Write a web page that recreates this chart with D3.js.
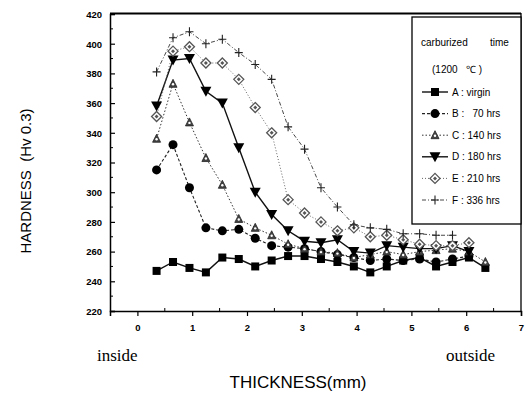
<!DOCTYPE html>
<html>
<head>
<meta charset="utf-8">
<script src="https://cdn.jsdelivr.net/npm/d3@7"></script>
<style>
  body { margin: 0; background: #fff; }
  svg { display: block; font-family: "Liberation Sans", Arial, sans-serif; }
</style>
</head>
<body>
<script>
// hardness profiles across the tube wall, one series per carburizing time

const w = 526;
const h = 394;

const thickness = [0.35, 0.65, 0.95, 1.25, 1.55, 1.85, 2.15, 2.45, 2.75, 3.05, 3.35,
                   3.65, 3.95, 4.25, 4.55, 4.85, 5.15, 5.45, 5.75, 6.05, 6.35];

const virgin = [247, 253, 249, 246, 256, 255, 250, 254, 257, 257, 255, 253, 250, 246, 250, 254, 256, 250, 253, 256, 249];
const hrs70  = [315, 332, 303, 276, 274, 275, 269, 264, 263, 262, 260, 258, 256, 254, 255, 254, 255, 253, 255, 257];
const hrs140 = [336, 373, 347, 323, 305, 282, 276, 271, 265, 262, 260, 259, 256, 258, 260, 258, 260, 261, 262, 260, 253];
const hrs180 = [358, 389, 390, 368, 360, 330, 300, 285, 274, 267, 266, 268, 260, 259, 264, 263, 262, 262, 264, 260];
const hrs210 = [351, 395, 398, 387, 387, 376, 357, 340, 295, 286, 280, 274, 276, 270, 271, 268, 265, 264, 264, 266];
const hrs336 = [381, 404, 408, 400, 403, 394, 386, 376, 344, 329, 303, 290, 278, 276, 275, 272, 272, 271, 271];

const legendNames = ["A : virgin", "B :   70 hrs", "C : 140 hrs", "D : 180 hrs", "E : 210 hrs", "F : 336 hrs"];

const yTicks = [220, 240, 260, 280, 300, 320, 340, 360, 380, 400, 420];
const xTicks = [0, 1, 2, 3, 4, 5, 6, 7];

const series = [
  { name: legendNames[0], values: virgin, marker: "square",   dash: null,        width: 1.4, stroke: "#111" },
  { name: legendNames[1], values: hrs70,  marker: "circle",   dash: "3,2",       width: 1.1, stroke: "#222" },
  { name: legendNames[2], values: hrs140, marker: "triangle", dash: "1.5,2",     width: 1.0, stroke: "#333" },
  { name: legendNames[3], values: hrs180, marker: "triangleDown", dash: null,    width: 1.4, stroke: "#111" },
  { name: legendNames[4], values: hrs210, marker: "diamond",  dash: "1,2",       width: 0.9, stroke: "#555" },
  { name: legendNames[5], values: hrs336, marker: "plus",     dash: "4,2,1,2",   width: 0.9, stroke: "#333" }
];

const x_scale = d3.scaleLinear().domain([-0.5, 7]).range([110, 521]);
const y_scale = d3.scaleLinear().domain([220, 420]).range([311, 14]);

const svg = d3.select("body")
  .append("svg")
  .attr("width", w)
  .attr("height", h);

// frame
svg.append("line").attr("x1", 110).attr("x2", 521).attr("y1", 13.5).attr("y2", 13.5)
  .attr("stroke", "#000").attr("stroke-width", 2);
svg.append("line").attr("x1", 521).attr("x2", 521).attr("y1", 13).attr("y2", 311)
  .attr("stroke", "#000").attr("stroke-width", 1.3);

// axes
const x_axis = d3.axisBottom(x_scale).tickValues(xTicks).tickSize(5).tickPadding(8).tickFormat(d3.format("d"));
const y_axis = d3.axisLeft(y_scale).tickValues(yTicks).tickSize(-5).tickPadding(8).tickFormat(d3.format("d"));

const gx = svg.append("g")
  .attr("transform", `translate(0,${y_scale(220)})`)
  .call(x_axis);
const gy = svg.append("g")
  .attr("transform", `translate(${x_scale(-0.5)},0)`)
  .call(y_axis);

[gx, gy].forEach(g => {
  g.select(".domain").attr("stroke", "#000").attr("stroke-width", 1.5);
  g.selectAll(".tick line").attr("stroke", "#000").attr("stroke-width", 1.2);
  g.selectAll(".tick text")
    .attr("font-size", 9.5)
    .attr("font-weight", "bold")
    .attr("font-family", "'Liberation Sans', Arial, sans-serif")
    .attr("fill", "#000");
});
gy.selectAll(".tick text").attr("dy", "0.35em");

// minor ticks
const xMinor = [-0.5, 0.5, 1.5, 2.5, 3.5, 4.5, 5.5, 6.5];
svg.append("g").selectAll("line").data(xMinor.slice(1)).enter().append("line")
  .attr("x1", d => x_scale(d)).attr("x2", d => x_scale(d))
  .attr("y1", y_scale(220)).attr("y2", y_scale(220) - 3)
  .attr("stroke", "#000").attr("stroke-width", 1);
const yMinor = [230, 250, 270, 290, 310, 330, 350, 370, 390, 410];
svg.append("g").selectAll("line").data(yMinor).enter().append("line")
  .attr("x1", x_scale(-0.5)).attr("x2", x_scale(-0.5) + 3)
  .attr("y1", d => y_scale(d)).attr("y2", d => y_scale(d))
  .attr("stroke", "#000").attr("stroke-width", 1);

// markers
function drawMarker(g, type, cx, cy) {
  if (type === "square") {
    g.append("rect").attr("x", cx - 4).attr("y", cy - 4).attr("width", 8).attr("height", 8).attr("fill", "#000");
  } else if (type === "circle") {
    g.append("circle").attr("cx", cx).attr("cy", cy).attr("r", 4.5).attr("fill", "#000");
  } else if (type === "triangle") {
    g.append("path").attr("d", `M${cx},${cy - 4.5}L${cx + 4},${cy + 3.5}L${cx - 4},${cy + 3.5}Z`)
      .attr("fill", "#444").attr("stroke", "#222").attr("stroke-width", 0.8);
    g.append("circle").attr("cx", cx).attr("cy", cy + 0.5).attr("r", 1.2).attr("fill", "#fff");
  } else if (type === "triangleDown") {
    g.append("path").attr("d", `M${cx - 5.5},${cy - 4.5}L${cx + 5.5},${cy - 4.5}L${cx},${cy + 5.5}Z`).attr("fill", "#000");
  } else if (type === "diamond") {
    g.append("path").attr("d", `M${cx},${cy - 5}L${cx + 5},${cy}L${cx},${cy + 5}L${cx - 5},${cy}Z`)
      .attr("fill", "#fff").attr("stroke", "#555").attr("stroke-width", 1.3);
    g.append("path").attr("d", `M${cx},${cy - 2}L${cx + 2},${cy}L${cx},${cy + 2}L${cx - 2},${cy}Z`)
      .attr("fill", "#555");
  } else if (type === "plus") {
    g.append("path").attr("d", `M${cx - 4},${cy}H${cx + 4}M${cx},${cy - 4.5}V${cy + 4.5}`)
      .attr("stroke", "#222").attr("stroke-width", 1.1).attr("fill", "none");
  }
}

const line = d3.line()
  .x((d, i) => x_scale(thickness[i]))
  .y(d => y_scale(d));

series.forEach(s => {
  svg.append("path")
    .datum(s.values)
    .attr("d", line)
    .attr("fill", "none")
    .attr("stroke", s.stroke)
    .attr("stroke-width", s.width)
    .attr("stroke-dasharray", s.dash);
});
series.forEach(s => {
  const g = svg.append("g");
  s.values.forEach((v, i) => drawMarker(g, s.marker, x_scale(thickness[i]), y_scale(v)));
});

// legend
const lg = svg.append("g");
lg.append("rect").attr("x", 412).attr("y", 17).attr("width", 109).attr("height", 207)
  .attr("fill", "#fff").attr("stroke", "#000").attr("stroke-width", 1.3);
lg.append("text").attr("x", 421).attr("y", 46).attr("font-size", 10).text("carburized");
lg.append("text").attr("x", 490).attr("y", 46).attr("font-size", 10).text("time");
lg.append("text").attr("x", 432).attr("y", 73).attr("font-size", 10).text("(1200   \u2103 )")
  .style("white-space", "pre");

series.forEach((s, i) => {
  const cy = 92 + i * 21.6;
  lg.append("line").attr("x1", 422).attr("x2", 448).attr("y1", cy).attr("y2", cy)
    .attr("stroke", s.stroke).attr("stroke-width", s.width).attr("stroke-dasharray", s.dash);
  drawMarker(lg, s.marker, 435, cy);
  lg.append("text").attr("x", 452).attr("y", cy + 3.5).attr("font-size", 10).text(s.name)
    .style("white-space", "pre");
});

// axis titles
svg.append("text")
  .attr("transform", "translate(31,181) rotate(-90)")
  .attr("text-anchor", "middle")
  .attr("font-size", 15)
  .text("HARDNESS  (Hv 0.3)")
  .style("white-space", "pre");

svg.append("text").attr("x", 298).attr("y", 388).attr("text-anchor", "middle")
  .attr("font-size", 17).text("THICKNESS(mm)");

svg.append("text").attr("x", 97).attr("y", 361)
  .attr("font-family", "'Liberation Serif', 'Times New Roman', serif")
  .attr("font-size", 17).text("inside");
svg.append("text").attr("x", 446).attr("y", 361)
  .attr("font-family", "'Liberation Serif', 'Times New Roman', serif")
  .attr("font-size", 17).text("outside");
</script>
</body>
</html>
